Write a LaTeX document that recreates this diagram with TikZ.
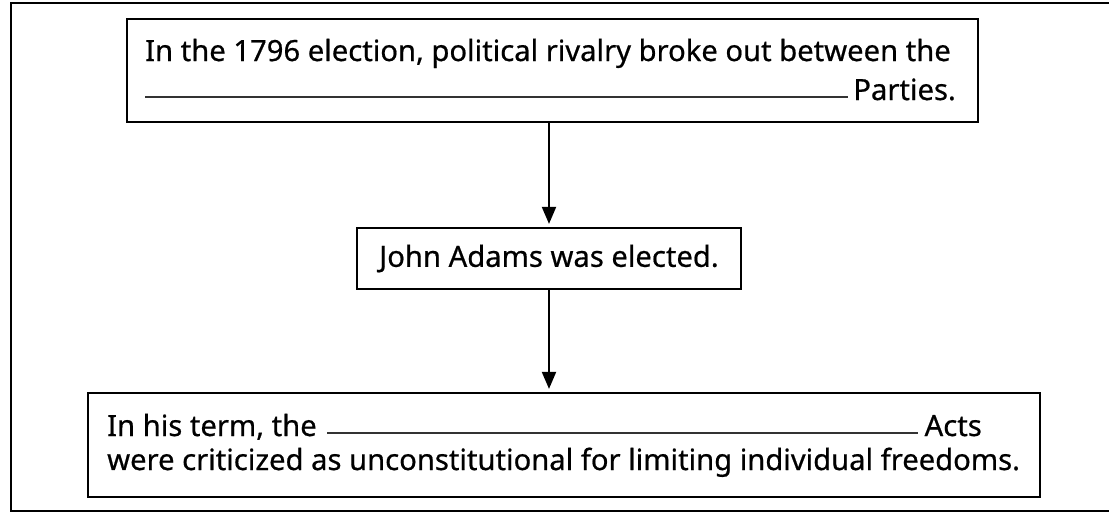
\documentclass[tikz,border=0pt]{standalone}
\usepackage{fontspec}
\setmainfont[Ligatures=NoCommon,FakeBold=0.6]{Noto Sans}
\usetikzlibrary{arrows.meta}
\begin{document}
\begin{tikzpicture}[x=1pt,y=-1pt,
  box/.style={draw=black,line width=2.2pt,rectangle,inner sep=0pt},
  txt/.style={inner sep=0pt,font=\fontsize{29.2pt}{34pt}\selectfont},
  blank/.style={draw=black!80,line width=1.2pt},
  arr/.style={draw=black,line width=2pt,-{Triangle[length=17pt,width=14pt]},shorten >=3pt}]
\useasboundingbox (0,0) rectangle (1109,512);
% outer frame (right side runs off the page)
\draw[line width=2pt] (1120,3) -- (11,3) -- (11,511) -- (1120,511);
% boxes
\node[box,minimum width=851pt,minimum height=103pt] (top) at (552.5,70.5) {};
\node[box,minimum width=384pt,minimum height=61pt,txt] (mid) at (549,258.5) {John Adams was elected.};
\node[box,minimum width=952pt,minimum height=104pt] (bot) at (564,445) {};
% top box text
\node[txt,anchor=base west] (t1) at (145,61) {In the 1796 election, political rivalry broke out between the};
\node[txt,anchor=base east] (t2) at (956,100) {Parties.};
\draw[blank] (145,97) -- (848,97);
% bottom box text
\node[txt,anchor=base west] (b1) at (107,436) {In his term, the};
\node[txt,anchor=base east] (b2) at (982,436) {Acts};
\draw[blank] (327,433) -- (918,433);
\node[txt,anchor=base west] (b3) at (107,470) {were criticized as unconstitutional for limiting individual freedoms.};
% connectors
\draw[arr] (top.south -| mid.north) -- (mid.north);
\draw[arr] (mid.south) -- (bot.north -| mid.south);
\end{tikzpicture}
\end{document}
